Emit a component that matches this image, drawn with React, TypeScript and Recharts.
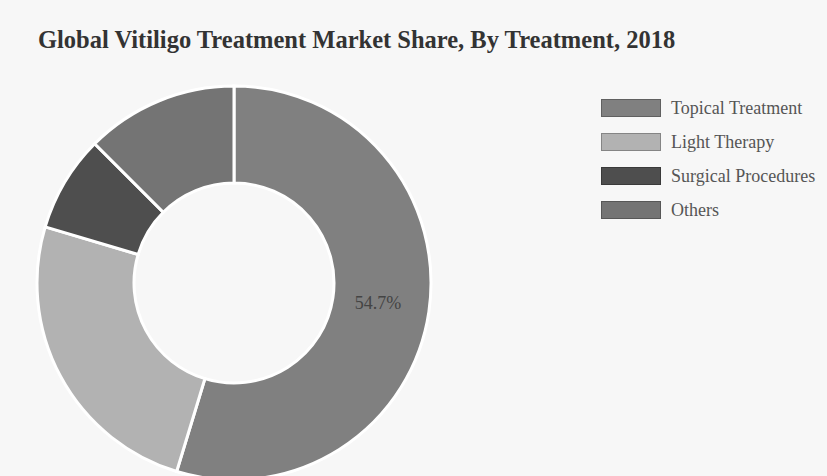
import React from "react";
import { PieChart, Pie, Cell, Legend } from "recharts";

const segments = ["Topical Treatment", "Light Therapy", "Surgical Procedures", "Others"];
const shares = [54.7, 24.9, 7.9, 12.5];
const colors = ["#808080", "#b2b2b2", "#4e4e4e", "#747474"];

const data = segments.map((name, i) => ({ name, value: shares[i] }));

const RADIAN = Math.PI / 180;

// only the biggest slice carries its percentage
const renderLabel = (props: any) => {
  const { cx, cy, midAngle, innerRadius, outerRadius, index } = props;
  if (index !== 0) return null;
  const r = (innerRadius + outerRadius) / 2;
  const x = cx + r * Math.cos(-midAngle * RADIAN);
  const y = cy + r * Math.sin(-midAngle * RADIAN);
  return (
    <text
      x={x - 3}
      y={y - 2}
      fill="#444"
      textAnchor="middle"
      dominantBaseline="central"
      fontFamily="Liberation Serif, serif"
      fontSize={18}
    >
      {shares[0].toFixed(1)}%
    </text>
  );
};

const LegendBox = () => (
  <div style={{ fontFamily: "Liberation Serif, serif" }}>
    {segments.map((name, i) => (
      <div key={name} style={{ display: "flex", alignItems: "center", height: 34 }}>
        <span
          style={{
            display: "inline-block",
            width: 58,
            height: 16,
            background: colors[i],
            border: "1px solid rgba(0,0,0,0.25)",
            marginRight: 10,
          }}
        />
        <span style={{ fontSize: 18, color: "#555", whiteSpace: "nowrap" }}>{name}</span>
      </div>
    ))}
  </div>
);

export default function App() {
  return (
    <div
      style={{
        position: "absolute",
        left: 0,
        top: 0,
        width: 827,
        height: 476,
        background: "#f7f7f7",
        overflow: "hidden",
      }}
    >
      <div
        style={{
          position: "absolute",
          left: 38,
          top: 26,
          fontFamily: "Liberation Serif, serif",
          fontWeight: "bold",
          fontSize: 24.5,
          color: "#333",
          whiteSpace: "nowrap",
        }}
      >
        Global Vitiligo Treatment Market Share, By Treatment, 2018
      </div>
      <PieChart width={827} height={476} style={{ position: "absolute", left: 0, top: 0 }}>
        <Pie
          data={data}
          dataKey="value"
          nameKey="name"
          cx={229}
          cy={278}
          innerRadius={100}
          outerRadius={197}
          startAngle={90}
          endAngle={-270}
          stroke="#ffffff"
          strokeWidth={3}
          label={renderLabel}
          labelLine={false}
          isAnimationActive={false}
        >
          {data.map((d, i) => (
            <Cell key={d.name} fill={colors[i]} />
          ))}
        </Pie>
        <Legend
          layout="vertical"
          verticalAlign="top"
          align="right"
          content={LegendBox}
          wrapperStyle={{ left: 601, top: 91, width: 226, right: "auto" }}
        />
      </PieChart>
    </div>
  );
}
